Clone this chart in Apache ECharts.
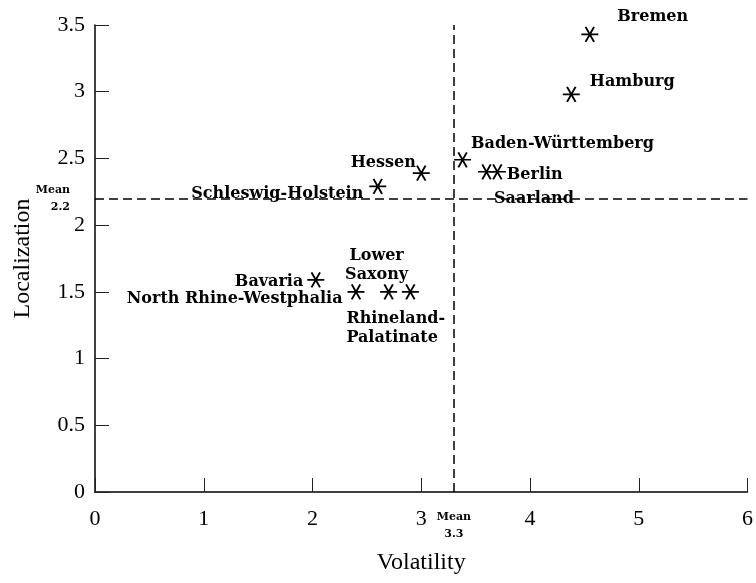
<!DOCTYPE html>
<html>
<head>
<meta charset="utf-8">
<script src="https://cdn.jsdelivr.net/npm/echarts@6/dist/echarts.min.js"></script>
<style>
  html, body { margin: 0; padding: 0; background: #fff; }
  #chart { width: 756px; height: 583px; }
</style>
</head>
<body>
<div id="chart"></div>
<script>
// German states: volatility vs. localization
const states = [
  'Bremen', 'Hamburg', 'Baden-Württemberg', 'Berlin', 'Saarland', 'Hessen',
  'Schleswig-Holstein', 'Bavaria', 'North Rhine-Westphalia', 'Lower Saxony',
  'Rhineland-Palatinate'
];
const volatility   = [4.55, 4.38, 3.38, 3.70, 3.60, 3.00, 2.60, 2.03, 2.40, 2.70, 2.90];
const localization = [3.43, 2.98, 2.49, 2.40, 2.40, 2.39, 2.29, 1.59, 1.50, 1.50, 1.50];
const labelText = {
  'Lower Saxony': 'Lower\nSaxony',
  'Rhineland-Palatinate': 'Rhineland-\nPalatinate'
};
const meanVolatility = 3.3;
const meanLocalization = 2.2;
const xTicks = [0, 6, 1];      // min, max, interval
const yTicks = [0, 3.5, 0.5];

// where each state's name sits around its marker
const labelPlacement = {
  'Bremen':                 { position: 'right',  offset: [13, -17] },
  'Hamburg':                { position: 'right',  offset: [4, -13] },
  'Baden-Württemberg':      { position: 'right',  offset: [-6, -16] },
  'Berlin':                 { position: 'right',  offset: [-5, 3] },
  'Saarland':               { position: 'right',  offset: [-7, 27] },
  'Hessen':                 { position: 'left',   offset: [9, -10] },
  'Schleswig-Holstein':     { position: 'left',   offset: [0, 7] },
  'Bavaria':                { position: 'left',   offset: [2, 2] },
  'North Rhine-Westphalia': { position: 'left',   offset: [1, 7] },
  'Lower Saxony':           { position: 'top',    offset: [-12, 6], align: 'center' },
  'Rhineland-Palatinate':   { position: 'bottom', offset: [-64, 4], align: 'left' }
};

const serif = '"Liberation Serif", "Times New Roman", serif';
const labelFont = '"DejaVu Serif", serif';
const asterisk = 'path://M0 4.33L10 4.33M2.5 0L7.5 8.66M7.5 0L2.5 8.66';

const points = states.map((name, i) => {
  const p = labelPlacement[name];
  return {
    name: name,
    value: [volatility[i], localization[i]],
    label: {
      show: true,
      formatter: labelText[name] || name,
      position: p.position,
      offset: p.offset,
      align: p.align,
      distance: 5
    }
  };
});

const chart = echarts.init(document.getElementById('chart'), null, { renderer: 'canvas' });
chart.setOption({
  animation: false,
  backgroundColor: '#fff',
  grid: { left: 95, right: 5, top: 25, bottom: 91, containLabel: false },
  xAxis: {
    type: 'value',
    min: xTicks[0], max: xTicks[1], interval: xTicks[2],
    name: 'Volatility',
    nameLocation: 'middle',
    nameGap: 59,
    nameTextStyle: { fontFamily: serif, fontSize: 24, color: '#000' },
    axisLine: { show: true, lineStyle: { color: '#000', width: 1.5 } },
    axisTick: { show: true, inside: true, length: 14, lineStyle: { color: '#222', width: 1 } },
    axisLabel: { fontFamily: serif, fontSize: 22, color: '#000', margin: 16 },
    splitLine: { show: false }
  },
  yAxis: {
    type: 'value',
    min: yTicks[0], max: yTicks[1], interval: yTicks[2],
    name: 'Localization',
    nameLocation: 'middle',
    nameGap: 60,
    nameTextStyle: { fontFamily: serif, fontSize: 24, color: '#000' },
    axisLine: { show: true, lineStyle: { color: '#000', width: 1.5 } },
    axisTick: { show: true, inside: true, length: 14, lineStyle: { color: '#222', width: 1 } },
    axisLabel: { fontFamily: serif, fontSize: 22, color: '#000', margin: 10 },
    splitLine: { show: false }
  },
  series: [{
    type: 'scatter',
    data: points,
    symbol: asterisk,
    symbolSize: [17, 15],
    itemStyle: { color: 'transparent', borderColor: '#000', borderWidth: 1.8, opacity: 1 },
    label: {
      fontFamily: labelFont, fontWeight: 'bold', fontSize: 16, color: '#000', lineHeight: 19
    },
    emphasis: { disabled: true },
    markLine: {
      silent: true,
      symbol: 'none',
      lineStyle: { color: '#000', type: [9, 5], width: 1.5 },
      label: {
        fontFamily: labelFont, fontWeight: 'bold', fontSize: 11, color: '#000', lineHeight: 17
      },
      data: [
        {
          xAxis: meanVolatility,
          label: { position: 'start', distance: 17, formatter: 'Mean\n' + meanVolatility.toFixed(1) }
        },
        {
          yAxis: meanLocalization,
          label: { position: 'start', distance: 25, formatter: 'Mean\n' + meanLocalization.toFixed(1) }
        }
      ]
    }
  }]
});
</script>
</body>
</html>
